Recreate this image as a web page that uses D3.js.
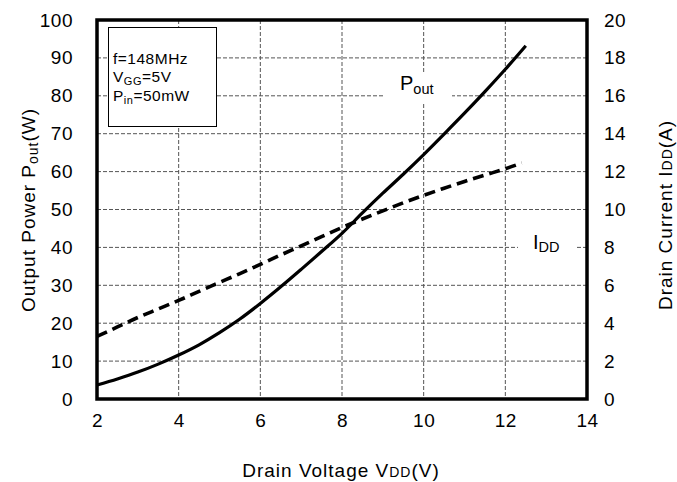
<!DOCTYPE html>
<html><head><meta charset="utf-8">
<script src="https://cdn.jsdelivr.net/npm/d3@7"></script>
<style>body{margin:0;background:#fff}svg{display:block;font-family:"Liberation Sans",Arial,sans-serif}</style>
</head><body><svg id="c" width="677" height="482"></svg>
<script>
const vdd = [2, 2.5, 3, 3.5, 4, 4.5, 5, 5.5, 6, 6.5, 7, 7.5, 8, 8.5, 9, 9.5, 10, 10.5, 11, 11.5, 12, 12.5];
const pout = [3.7, 5.3, 7.1, 9.2, 11.6, 14.3, 17.5, 21.1, 25.2, 29.6, 34.2, 38.9, 43.7, 49.1, 54.3, 59.3, 64.5, 69.9, 75.4, 81.1, 87.0, 93.2];
const iddV = [2, 2.5, 3, 3.5, 4, 4.5, 5, 5.5, 6, 6.5, 7, 7.5, 8, 8.5, 9, 9.5, 10, 10.5, 11, 11.5, 12, 12.4];
const idd = [3.3, 3.8, 4.3, 4.75, 5.2, 5.68, 6.15, 6.62, 7.1, 7.6, 8.08, 8.57, 9.05, 9.5, 9.93, 10.35, 10.75, 11.12, 11.48, 11.82, 12.15, 12.45];
const xTicks = [2, 4, 6, 8, 10, 12, 14];
const yLeftTicks = [0, 10, 20, 30, 40, 50, 60, 70, 80, 90, 100];
const yRightTicks = [0, 2, 4, 6, 8, 10, 12, 14, 16, 18, 20];

const svg = d3.select("#c");
const L = 97, R = 587, T = 20, B = 399;
const x = d3.scaleLinear().domain([2, 14]).range([L, R]);
const yL = d3.scaleLinear().domain([0, 100]).range([B, T]);
const yR = d3.scaleLinear().domain([0, 20]).range([B, T]);

// grid
const g = svg.append("g");
g.selectAll(".vg").data(xTicks.slice(1, -1)).join("line")
  .attr("x1", d => x(d)).attr("x2", d => x(d)).attr("y1", T).attr("y2", B)
  .attr("stroke", "#555").attr("stroke-width", 1).attr("stroke-dasharray", "4,2");
g.selectAll(".hg").data(yLeftTicks.slice(1, -1)).join("line")
  .attr("x1", L).attr("x2", R).attr("y1", d => yL(d)).attr("y2", d => yL(d))
  .attr("stroke", "#555").attr("stroke-width", 1).attr("stroke-dasharray", "4,2");

// white boxes for labels
svg.append("rect").attr("x", 384).attr("y", 74).attr("width", 68).attr("height", 28).attr("fill", "#fff");
svg.append("rect").attr("x", 518).attr("y", 230).attr("width", 59).attr("height", 30).attr("fill", "#fff");

// axes
const fs = "19px";
const ax = svg.append("g").attr("transform", `translate(0,${B})`)
  .call(d3.axisBottom(x).tickValues(xTicks).tickSize(0).tickPadding(15));
const al = svg.append("g").attr("transform", `translate(${L},0)`)
  .call(d3.axisLeft(yL).tickValues(yLeftTicks).tickSize(0).tickPadding(24));
const ar = svg.append("g").attr("transform", `translate(${R},0)`)
  .call(d3.axisRight(yR).tickValues(yRightTicks).tickSize(0).tickPadding(17));
[ax, al, ar].forEach(a => {
  a.select(".domain").remove();
  a.selectAll("text").attr("font-size", fs).attr("letter-spacing", "0.5px")
    .attr("font-family", "Liberation Sans, Arial, sans-serif").attr("fill", "#000");
});

// curves
const line = d3.line().curve(d3.curveMonotoneX);
svg.append("path")
  .attr("d", line(vdd.map((v, i) => [x(v), yL(pout[i])])))
  .attr("fill", "none").attr("stroke", "#000").attr("stroke-width", 3.2);
svg.append("path")
  .attr("d", line(iddV.map((v, i) => [x(v), yR(idd[i])])))
  .attr("fill", "none").attr("stroke", "#000").attr("stroke-width", 3.6).attr("stroke-dasharray", "11,6");

// frame
svg.append("rect").attr("x", L).attr("y", T).attr("width", R - L).attr("height", B - T)
  .attr("fill", "none").attr("stroke", "#000").attr("stroke-width", 3.5);

// legend box
svg.append("rect").attr("x", 108.5).attr("y", 27.5).attr("width", 108).attr("height", 99)
  .attr("fill", "#fff").attr("stroke", "#000").attr("stroke-width", 1);
const lt = svg.append("g").attr("font-size", "15.5px").attr("letter-spacing", "0.5px").attr("fill", "#000");
lt.append("text").attr("x", 113).attr("y", 64).text("f=148MHz");
const t2 = lt.append("text").attr("x", 113).attr("y", 82);
t2.append("tspan").text("V");
t2.append("tspan").attr("font-size", "11px").attr("dy", 3).text("GG");
t2.append("tspan").attr("dy", -3).text("=5V");
const t3 = lt.append("text").attr("x", 113).attr("y", 101);
t3.append("tspan").text("P");
t3.append("tspan").attr("font-size", "11px").attr("dy", 3).text("in");
t3.append("tspan").attr("dy", -3).text("=50mW");

// curve labels
const p = svg.append("text").attr("x", 400).attr("y", 90).attr("font-size", "20px");
p.append("tspan").text("P");
p.append("tspan").attr("font-size", "14.5px").attr("dy", 4).text("out");
const id = svg.append("text").attr("x", 533).attr("y", 249).attr("font-size", "20px");
id.append("tspan").text("I");
id.append("tspan").attr("font-size", "14.5px").attr("dy", 3).text("DD");

// axis titles
const xt = svg.append("text").attr("x", 341).attr("y", 477).attr("text-anchor", "middle")
  .attr("font-size", "19px").attr("letter-spacing", "1px");
xt.append("tspan").text("Drain Voltage V");
xt.append("tspan").attr("font-size", "14px").text("DD");
xt.append("tspan").text("(V)");

const ylt = svg.append("text").attr("transform", "translate(35,210) rotate(-90)").attr("text-anchor", "middle")
  .attr("font-size", "19px").attr("letter-spacing", "1px");
ylt.append("tspan").text("Output Power P");
ylt.append("tspan").attr("font-size", "14px").attr("dy", 3).text("out");
ylt.append("tspan").attr("dy", -3).text("(W)");

const yrt = svg.append("text").attr("transform", "translate(672,215) rotate(-90)").attr("text-anchor", "middle")
  .attr("font-size", "19px").attr("letter-spacing", "1px");
yrt.append("tspan").text("Drain Current I");
yrt.append("tspan").attr("font-size", "14px").text("DD");
yrt.append("tspan").text("(A)");
</script></body></html>
